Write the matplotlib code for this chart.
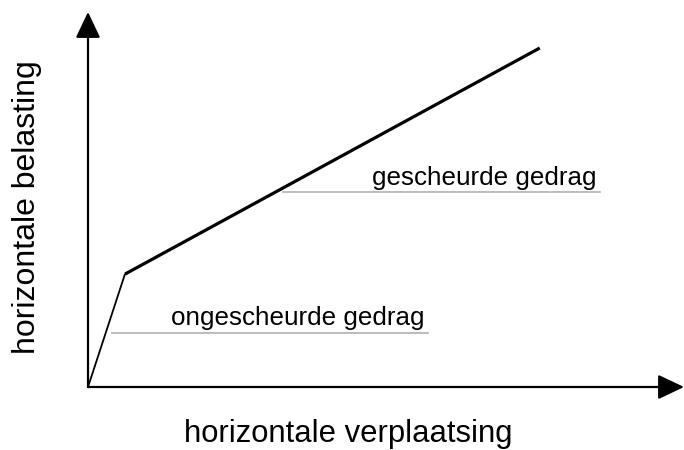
import matplotlib
matplotlib.use("Agg")
import matplotlib.pyplot as plt

plt.rcParams['font.family'] = ['Liberation Sans', 'DejaVu Sans']

# ── DATA ──────────────────────────────────────────────────────────────────────
# bilinear load-displacement curve (axis units 0..100)
disp = [0, 6.2, 75.8]
load = [0, 30.1, 90.4]

# annotation labels with a grey underline
labels = ["ongescheurde gedrag", "gescheurde gedrag"]
line_x0 = [4.0, 32.7]
line_x1 = [57.0, 85.9]
line_y = [14.4, 52.0]

xlabel = "horizontale verplaatsing"
ylabel = "horizontale belasting"

# ── PLOT ──────────────────────────────────────────────────────────────────────
W, H = 684, 450
fig = plt.figure(figsize=(W / 100, H / 100), dpi=100)
ax = fig.add_axes([88 / W, (H - 387) / H, 596 / W, 375 / H])
ax.set_xlim(0, 100)
ax.set_ylim(0, 100)
ax.axis('off')

# axes with arrows
arrow = dict(arrowstyle='-|>,head_length=0.4,head_width=0.19', mutation_scale=40,
             color='black', lw=1.6, shrinkA=0, shrinkB=0)
ax.annotate('', xy=(100, 0), xytext=(0, 0), arrowprops=arrow, annotation_clip=False)
ax.annotate('', xy=(0, 100), xytext=(0, 0), arrowprops=arrow, annotation_clip=False)

# uncracked (thin) and cracked (thick) branches
ax.plot(disp[:2], load[:2], color='black', lw=1.3, solid_capstyle='butt', clip_on=False)
ax.plot(disp[1:], load[1:], color='black', lw=2.3, solid_capstyle='butt', clip_on=False)

for lab, x0, x1, y in zip(labels, line_x0, line_x1, line_y):
    ax.plot([x0, x1], [y, y], color='#b0b0b0', lw=1.2, clip_on=False)
    ax.text(x1 - 0.5, y + 2.0, lab, ha='right', va='baseline', fontsize=18.7, color='black')

fig.text(348 / W, 1 - 442 / H, xlabel, ha='center', va='baseline', fontsize=22.3)
fig.text(42 / W, 1 - 207 / H, ylabel, ha='right', va='center', rotation=90, fontsize=23)

fig.savefig("out.png", dpi=100)
